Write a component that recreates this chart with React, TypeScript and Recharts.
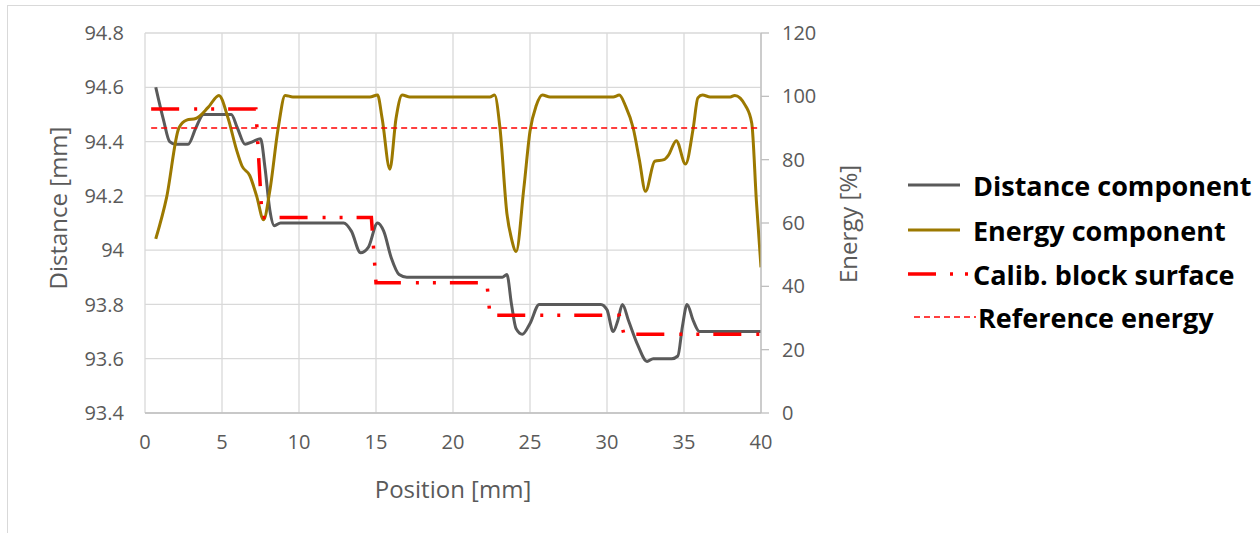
import { ComposedChart, Line, XAxis, YAxis, CartesianGrid } from "recharts";

const xTicks = [0, 5, 10, 15, 20, 25, 30, 35, 40];
const distanceTicks = [93.4, 93.6, 93.8, 94, 94.2, 94.4, 94.6, 94.8];
const energyTicks = [0, 20, 40, 60, 80, 100, 120];

// distance component [mm]
const distancePos = [
  0.7, 1.2, 1.6, 2.0, 2.8, 3.3, 3.8, 5.6, 6.0, 6.5, 7.0, 7.5, 7.8, 8.1, 8.4, 8.8,
  12.9, 13.4, 14.0, 14.5, 15.1, 15.5, 16.0, 16.5, 17.0, 23.2, 23.5, 23.8, 24.1,
  24.5, 25.0, 25.6, 26.0, 29.6, 30.0, 30.4, 30.7, 31.0, 31.4, 32.0, 32.6, 33.0,
  34.2, 34.6, 34.9, 35.2, 35.6, 36.0, 40.0,
];
const distanceVal = [
  94.6, 94.48, 94.4, 94.39, 94.39, 94.45, 94.5, 94.5, 94.45, 94.39, 94.4, 94.41,
  94.3, 94.15, 94.09, 94.1, 94.1, 94.07, 93.99, 94.01, 94.1, 94.07, 93.97, 93.91,
  93.9, 93.9, 93.91, 93.8, 93.71, 93.69, 93.73, 93.8, 93.8, 93.8, 93.78, 93.7,
  93.74, 93.8, 93.74, 93.65, 93.59, 93.6, 93.6, 93.61, 93.72, 93.8, 93.74, 93.7,
  93.7,
];

// energy component [%]
const energyPos = [
  0.7, 1.4, 2.2, 2.7, 3.3, 4.1, 4.8, 5.4, 5.95, 6.3, 6.8, 7.25, 7.7, 8.1, 8.65,
  9.1, 9.6, 14.6, 15.1, 15.4, 15.9, 16.3, 16.7, 17.2, 22.4, 22.7, 23.05, 23.5,
  23.8, 24.1, 24.6, 25.0, 25.4, 25.8, 26.3, 30.4, 30.8, 31.2, 31.7, 32.1, 32.5,
  33.1, 33.7, 34.0, 34.5, 35.1, 35.6, 35.9, 36.2, 36.7, 38.0, 38.3, 39.0, 39.4,
  39.7, 40.0,
];
const energyVal = [
  55, 68, 90, 92.5, 93, 96.5, 100.3, 93, 83, 78, 75, 68.5, 61, 70, 90, 100.3,
  99.8, 99.8, 100.4, 93, 77, 93, 100.4, 99.8, 99.8, 100.4, 90, 63, 55, 51, 71,
  89, 97, 100.4, 99.8, 99.8, 100.4, 97, 90, 80, 70, 79.5, 80, 81.5, 86, 78.6, 90,
  99.5, 100.4, 99.8, 99.8, 100.3, 97, 91.5, 67, 46,
];

// calibration block surface [mm]
const calibPos = [0.4, 7.2, 7.6, 14.7, 15.0, 22.2, 22.4, 30.8, 31.1, 40];
const calibVal = [94.52, 94.52, 94.12, 94.12, 93.88, 93.88, 93.76, 93.76, 93.69, 93.69];

// reference energy [%]
const refPos = [0.4, 40];
const refVal = [90, 90];

const zip = (xs: number[], ys: number[]) => xs.map((x, i) => ({ x, y: ys[i] }));

const distanceData = zip(distancePos, distanceVal);
const energyData = zip(energyPos, energyVal);
const calibData = zip(calibPos, calibVal);
const refData = zip(refPos, refVal);

const GREY = "#5a5a5a";
const GOLD = "#9c7900";
const RED = "#ff0000";
const FONT = "'Open Sans', sans-serif";
const CALIB_DASH = "28 15 3 14 3 14";

const tickStyle = { fill: GREY, fontSize: 20, fontFamily: FONT };

const legendItems = [
  { label: "Distance component", y: 185, kind: "dist" },
  { label: "Energy component", y: 230, kind: "energy" },
  { label: "Calib. block surface", y: 274, kind: "calib" },
  { label: "Reference energy", y: 317, kind: "ref" },
];

function LegendSample({ kind }: { kind: string }) {
  if (kind === "dist")
    return <line x1={0} x2={52} y1={8} y2={8} stroke={GREY} strokeWidth={3} />;
  if (kind === "energy")
    return <line x1={0} x2={52} y1={8} y2={8} stroke={GOLD} strokeWidth={3} />;
  if (kind === "calib")
    return <line x1={-2} x2={64} y1={8} y2={8} stroke={RED} strokeWidth={3.5} strokeDasharray="30 14 3 12 3 12" />;
  return <line x1={6} x2={68} y1={8} y2={8} stroke={RED} strokeWidth={1.5} strokeDasharray="6 4" />;
}

export default function App() {
  return (
    <div style={{ position: "absolute", left: 0, top: 0, width: 1260, height: 533, background: "#fff", overflow: "hidden" }}>
      <div style={{ position: "absolute", left: 7, top: 5, width: 1270, height: 560, border: "1px solid #d9d9d9" }} />
      <ComposedChart
        width={1260}
        height={533}
        margin={{ top: 33, right: 439, bottom: 90, left: 85 }}
        style={{ position: "absolute", left: 0, top: 0 }}
      >
        <CartesianGrid yAxisId="left" stroke="#d9d9d9" strokeWidth={1.3} />
        <XAxis
          dataKey="x"
          type="number"
          domain={[0, 40]}
          ticks={xTicks}
          allowDataOverflow
          height={30}
          tick={tickStyle}
          tickLine={false}
          tickSize={0}
          tickMargin={22}
          axisLine={{ stroke: "#bfbfbf", strokeWidth: 1.3 }}
        />
        <YAxis
          yAxisId="left"
          type="number"
          domain={[93.4, 94.8]}
          ticks={distanceTicks}
          allowDataOverflow
          width={60}
          tick={tickStyle}
          tickLine={false}
          tickSize={0}
          tickMargin={21}
          axisLine={false}
          tickFormatter={(v: number) => String(+v.toFixed(1))}
        />
        <YAxis
          yAxisId="right"
          orientation="right"
          type="number"
          domain={[0, 120]}
          ticks={energyTicks}
          allowDataOverflow
          width={60}
          tick={{ ...tickStyle, textAnchor: "start" }}
          tickLine={{ stroke: "#bfbfbf", strokeWidth: 1.3 }}
          tickSize={8}
          tickMargin={13}
          axisLine={{ stroke: "#bfbfbf", strokeWidth: 1.3 }}
        />
        <Line
          yAxisId="left"
          data={distanceData}
          dataKey="y"
          type="monotone"
          stroke={GREY}
          strokeWidth={3}
          dot={false}
          activeDot={false}
          isAnimationActive={false}
        />
        <Line
          yAxisId="right"
          data={energyData}
          dataKey="y"
          type="monotone"
          stroke={GOLD}
          strokeWidth={3}
          dot={false}
          activeDot={false}
          isAnimationActive={false}
        />
        <Line
          yAxisId="left"
          data={calibData}
          dataKey="y"
          type="linear"
          stroke={RED}
          strokeWidth={3.5}
          strokeDasharray={CALIB_DASH}
          dot={false}
          activeDot={false}
          isAnimationActive={false}
        />
        <Line
          yAxisId="right"
          data={refData}
          dataKey="y"
          type="linear"
          stroke={RED}
          strokeWidth={1.5}
          strokeDasharray="6 4"
          dot={false}
          activeDot={false}
          isAnimationActive={false}
        />
      </ComposedChart>

      <div
        style={{
          position: "absolute", left: 57, top: 208, transform: "translate(-50%, -50%) rotate(-90deg)",
          fontFamily: FONT, fontSize: 24, color: GREY, whiteSpace: "nowrap",
        }}
      >
        Distance [mm]
      </div>
      <div
        style={{
          position: "absolute", left: 847, top: 224, transform: "translate(-50%, -50%) rotate(-90deg)",
          fontFamily: FONT, fontSize: 24, color: GREY, whiteSpace: "nowrap",
        }}
      >
        Energy [%]
      </div>
      <div
        style={{
          position: "absolute", left: 453, top: 488, transform: "translate(-50%, -50%)",
          fontFamily: FONT, fontSize: 24, color: GREY, whiteSpace: "nowrap",
        }}
      >
        Position [mm]
      </div>

      {legendItems.map((it) => (
        <div key={it.label} style={{ position: "absolute", left: 908, top: it.y - 18, height: 36, display: "flex", alignItems: "center" }}>
          <svg width={68} height={16} style={{ display: "block" }}>
            <LegendSample kind={it.kind} />
          </svg>
          <span
            style={{
              marginLeft: it.kind === "ref" ? 2 : -3, fontFamily: FONT, fontWeight: 700, fontSize: 27,
              color: "#000", whiteSpace: "nowrap",
            }}
          >
            {it.label}
          </span>
        </div>
      ))}
    </div>
  );
}
